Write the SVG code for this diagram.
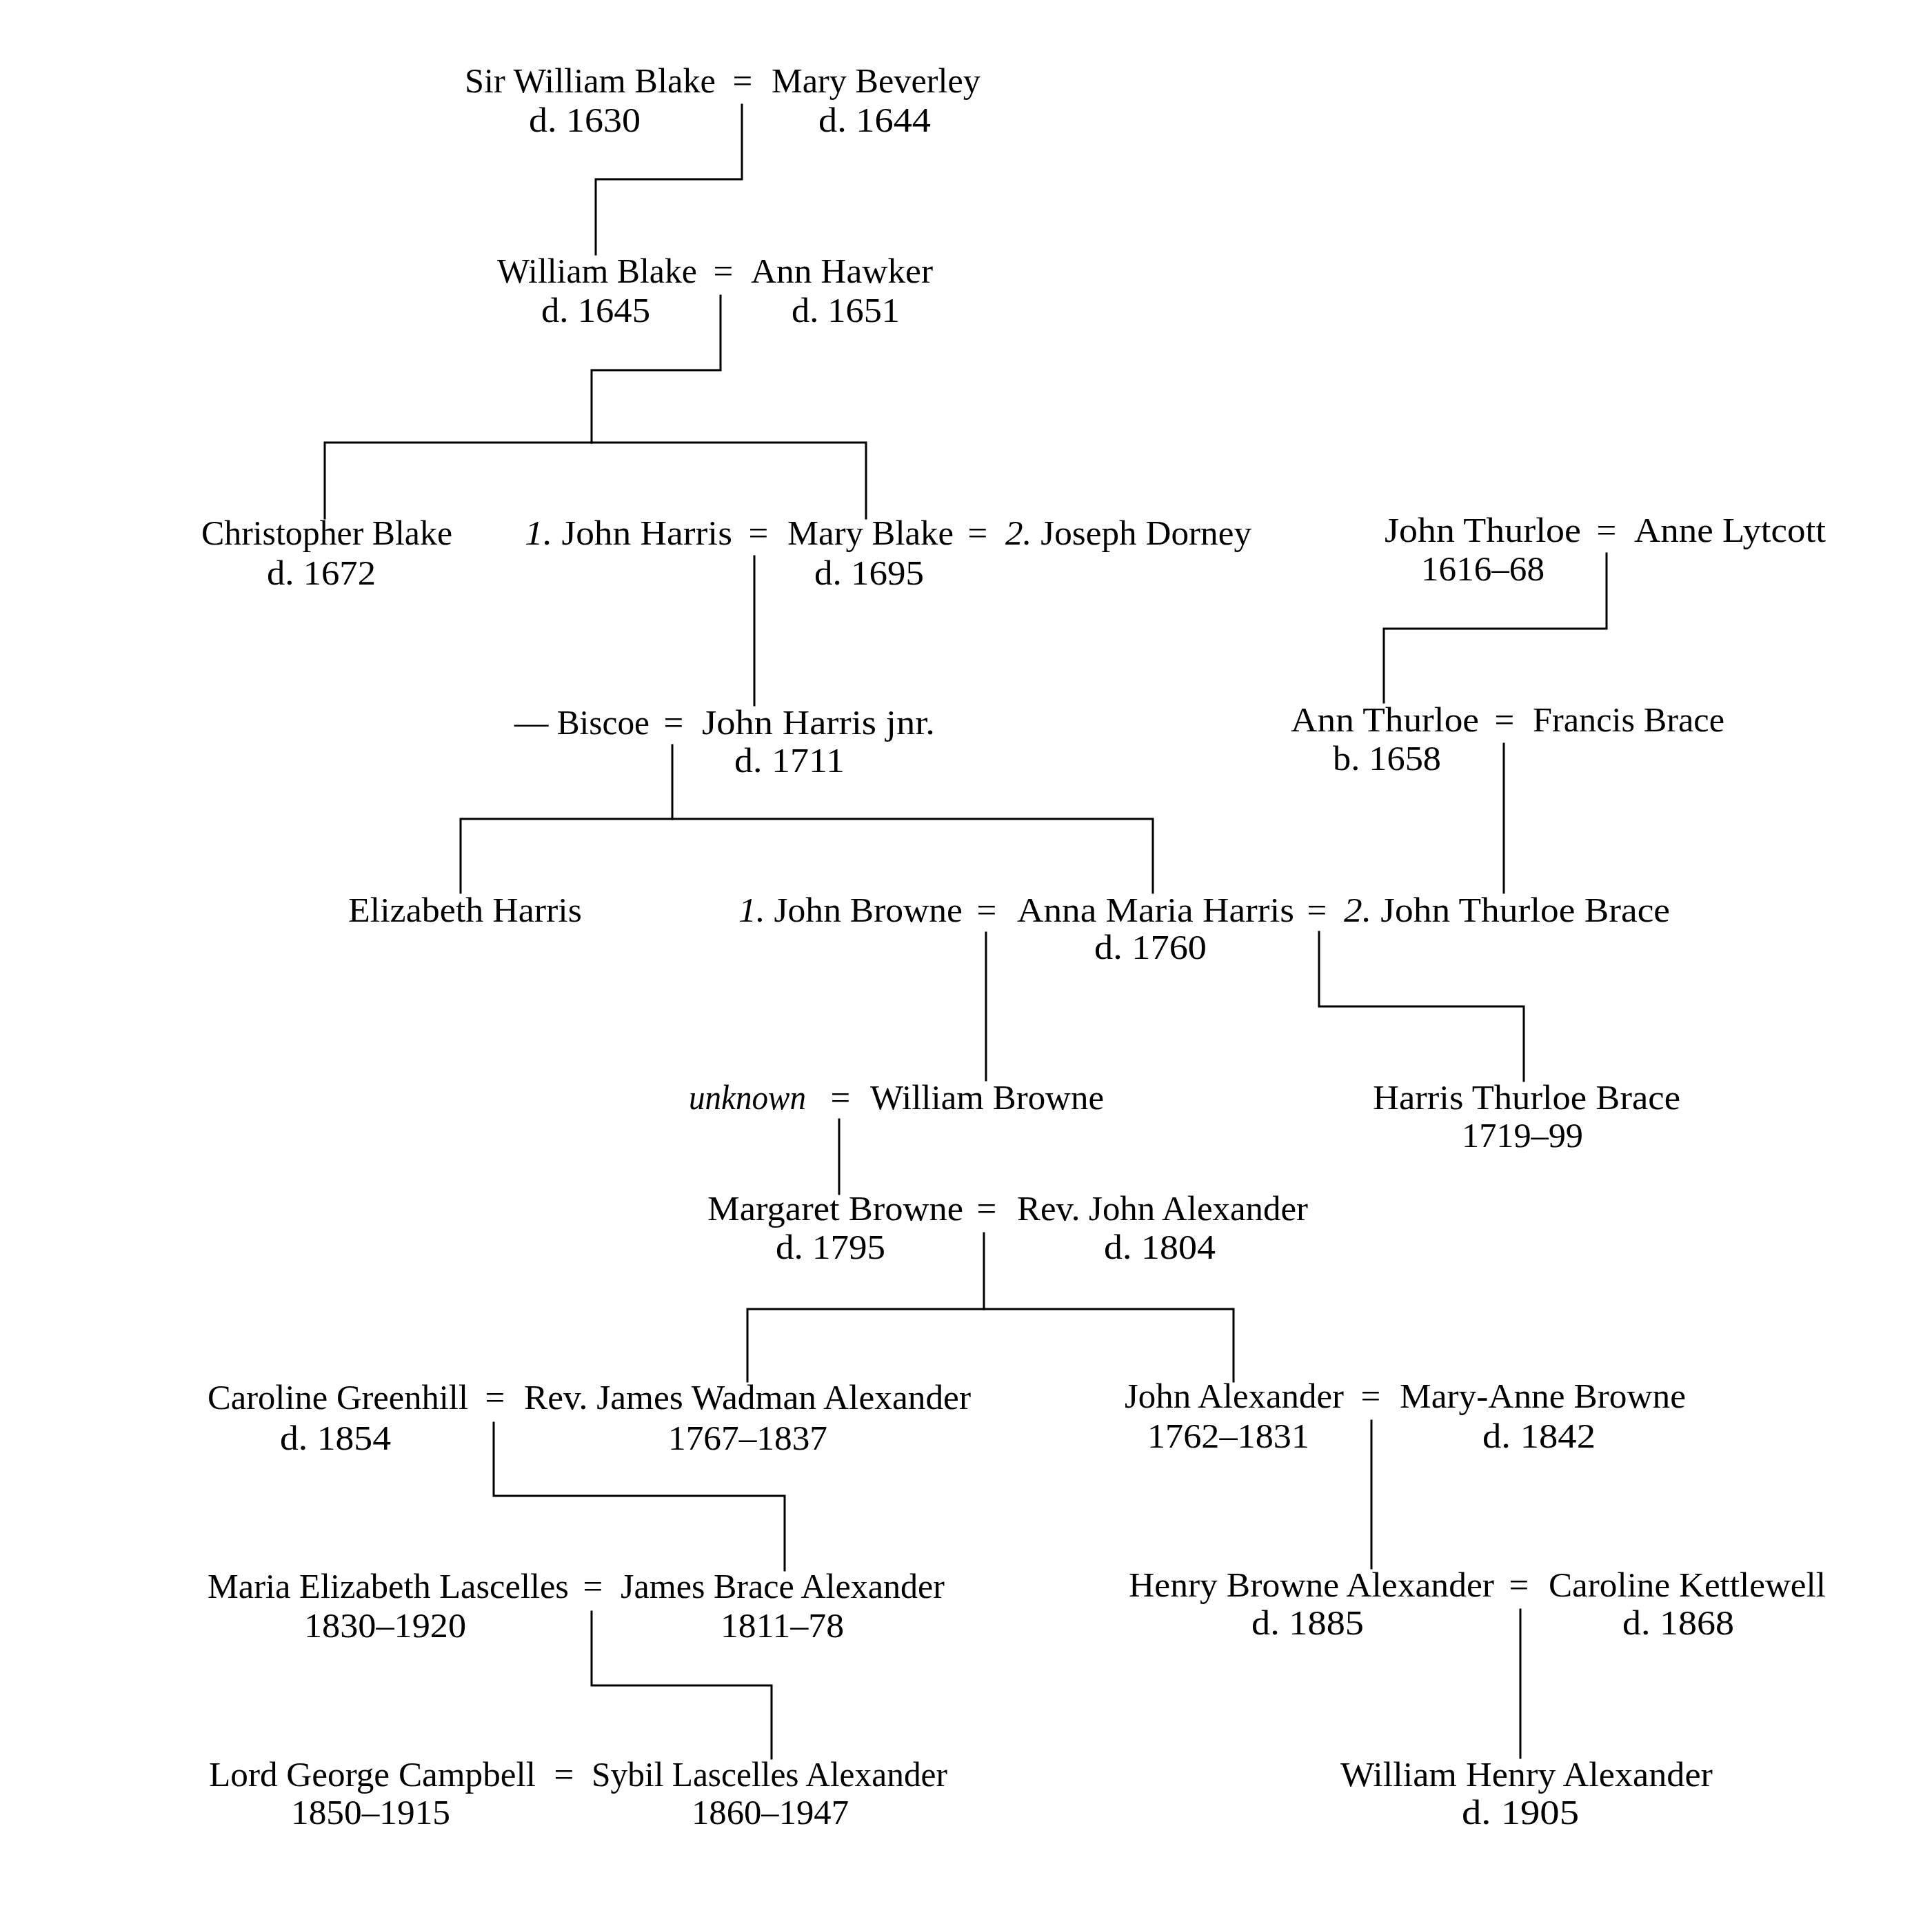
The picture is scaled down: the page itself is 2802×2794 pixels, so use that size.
<svg xmlns="http://www.w3.org/2000/svg" width="2802" height="2794" viewBox="0 0 2802 2794">
<style>
  text { font-family: "Liberation Serif", "Times New Roman", serif; font-size: 51px; fill: #000; }
  .eq { text-anchor: middle; }
  .it { font-style: italic; }
  .line { fill: none; stroke: #000; stroke-width: 3; stroke-linecap: square; stroke-linejoin: miter; }
</style>
<rect width="2802" height="2794" fill="#fff"/>

<g id="connectors">
  <path class="line" d="M1076,152 V260 H864 V369"/>
  <path class="line" d="M1045,429 V537 H858 V642"/>
  <path class="line" d="M471,752 V642 H1256 V752"/>
  <path class="line" d="M1094,807 V1023"/>
  <path class="line" d="M2330,803 V912 H2007 V1019"/>
  <path class="line" d="M975,1081 V1188"/>
  <path class="line" d="M668,1295 V1188 H1672 V1295"/>
  <path class="line" d="M2181,1079 V1295"/>
  <path class="line" d="M1430,1353 V1567"/>
  <path class="line" d="M1913,1352 V1460 H2210 V1568"/>
  <path class="line" d="M1217,1624 V1732"/>
  <path class="line" d="M1427,1789 V1899"/>
  <path class="line" d="M1084,2004 V1899 H1789 V2004"/>
  <path class="line" d="M716,2064 V2170 H1138 V2278"/>
  <path class="line" d="M1989,2061 V2275"/>
  <path class="line" d="M858,2338 V2445 H1119 V2551"/>
  <path class="line" d="M2205,2335 V2550"/>
</g>

<g id="marriages">
  <text class="eq" x="1077" y="134">=</text>
  <text class="eq" x="1049" y="410">=</text>
  <text class="eq" x="1100" y="790">=</text>
  <text class="eq" x="1418" y="790">=</text>
  <text class="eq" x="2330" y="786">=</text>
  <text class="eq" x="977" y="1065">=</text>
  <text class="eq" x="2182" y="1061">=</text>
  <text class="eq" x="1431" y="1337">=</text>
  <text class="eq" x="1910" y="1337">=</text>
  <text class="eq" x="1219" y="1609">=</text>
  <text class="eq" x="1431" y="1770">=</text>
  <text class="eq" x="718" y="2044">=</text>
  <text class="eq" x="1988" y="2042">=</text>
  <text class="eq" x="860" y="2318">=</text>
  <text class="eq" x="2203" y="2316">=</text>
  <text class="eq" x="818" y="2591">=</text>
</g>

<g id="sir-william-blake">
  <text x="674" y="134" textLength="364" lengthAdjust="spacingAndGlyphs">Sir William Blake</text>
  <text x="767" y="191" textLength="162" lengthAdjust="spacingAndGlyphs">d. 1630</text>
</g>
<g id="mary-beverley">
  <text x="1119" y="134" textLength="303" lengthAdjust="spacingAndGlyphs">Mary Beverley</text>
  <text x="1187" y="191" textLength="163" lengthAdjust="spacingAndGlyphs">d. 1644</text>
</g>

<g id="william-blake">
  <text x="721" y="410" textLength="290" lengthAdjust="spacingAndGlyphs">William Blake</text>
  <text x="785" y="467" textLength="158" lengthAdjust="spacingAndGlyphs">d. 1645</text>
</g>
<g id="ann-hawker">
  <text x="1089" y="410" textLength="264" lengthAdjust="spacingAndGlyphs">Ann Hawker</text>
  <text x="1148" y="467" textLength="157" lengthAdjust="spacingAndGlyphs">d. 1651</text>
</g>

<g id="christopher-blake">
  <text x="292" y="790" textLength="364" lengthAdjust="spacingAndGlyphs">Christopher Blake</text>
  <text x="387" y="848" textLength="158" lengthAdjust="spacingAndGlyphs">d. 1672</text>
</g>
<g id="john-harris">
  <text x="761" y="790" textLength="301" lengthAdjust="spacingAndGlyphs"><tspan class="it">1.</tspan> John Harris</text>
</g>
<g id="mary-blake">
  <text x="1142" y="790" textLength="241" lengthAdjust="spacingAndGlyphs">Mary Blake</text>
  <text x="1181" y="848" textLength="159" lengthAdjust="spacingAndGlyphs">d. 1695</text>
</g>
<g id="joseph-dorney">
  <text x="1458" y="790" textLength="357" lengthAdjust="spacingAndGlyphs"><tspan class="it">2.</tspan> Joseph Dorney</text>
</g>

<g id="john-thurloe">
  <text x="2008" y="786" textLength="285" lengthAdjust="spacingAndGlyphs">John Thurloe</text>
  <text x="2061" y="842" textLength="179" lengthAdjust="spacingAndGlyphs">1616–68</text>
</g>
<g id="anne-lytcott">
  <text x="2370" y="786" textLength="278" lengthAdjust="spacingAndGlyphs">Anne Lytcott</text>
</g>

<g id="biscoe">
  <text x="746" y="1065" textLength="196" lengthAdjust="spacingAndGlyphs">— Biscoe</text>
</g>
<g id="john-harris-jnr">
  <text x="1018" y="1065" textLength="338" lengthAdjust="spacingAndGlyphs">John Harris jnr.</text>
  <text x="1065" y="1120" textLength="160" lengthAdjust="spacingAndGlyphs">d. 1711</text>
</g>

<g id="ann-thurloe">
  <text x="1872" y="1061" textLength="273" lengthAdjust="spacingAndGlyphs">Ann Thurloe</text>
  <text x="1933" y="1117" textLength="157" lengthAdjust="spacingAndGlyphs">b. 1658</text>
</g>
<g id="francis-brace">
  <text x="2223" y="1061" textLength="278" lengthAdjust="spacingAndGlyphs">Francis Brace</text>
</g>

<g id="elizabeth-harris">
  <text x="505" y="1337" textLength="339" lengthAdjust="spacingAndGlyphs">Elizabeth Harris</text>
</g>
<g id="john-browne">
  <text x="1071" y="1337" textLength="325" lengthAdjust="spacingAndGlyphs"><tspan class="it">1.</tspan> John Browne</text>
</g>
<g id="anna-maria-harris">
  <text x="1475" y="1337" textLength="402" lengthAdjust="spacingAndGlyphs">Anna Maria Harris</text>
  <text x="1587" y="1391" textLength="163" lengthAdjust="spacingAndGlyphs">d. 1760</text>
</g>
<g id="john-thurloe-brace">
  <text x="1949" y="1337" textLength="473" lengthAdjust="spacingAndGlyphs"><tspan class="it">2.</tspan> John Thurloe Brace</text>
</g>

<g id="unknown">
  <text class="it" x="999" y="1609" textLength="170" lengthAdjust="spacingAndGlyphs">unknown</text>
</g>
<g id="william-browne">
  <text x="1262" y="1609" textLength="339" lengthAdjust="spacingAndGlyphs">William Browne</text>
</g>
<g id="harris-thurloe-brace">
  <text x="1991" y="1609" textLength="446" lengthAdjust="spacingAndGlyphs">Harris Thurloe Brace</text>
  <text x="2120" y="1664" textLength="176" lengthAdjust="spacingAndGlyphs">1719–99</text>
</g>

<g id="margaret-browne">
  <text x="1026" y="1770" textLength="371" lengthAdjust="spacingAndGlyphs">Margaret Browne</text>
  <text x="1125" y="1826" textLength="159" lengthAdjust="spacingAndGlyphs">d. 1795</text>
</g>
<g id="rev-john-alexander">
  <text x="1475" y="1770" textLength="422" lengthAdjust="spacingAndGlyphs">Rev. John Alexander</text>
  <text x="1601" y="1826" textLength="162" lengthAdjust="spacingAndGlyphs">d. 1804</text>
</g>

<g id="caroline-greenhill">
  <text x="301" y="2044" textLength="378" lengthAdjust="spacingAndGlyphs">Caroline Greenhill</text>
  <text x="406" y="2103" textLength="161" lengthAdjust="spacingAndGlyphs">d. 1854</text>
</g>
<g id="rev-james-wadman-alexander">
  <text x="760" y="2044" textLength="648" lengthAdjust="spacingAndGlyphs">Rev. James Wadman Alexander</text>
  <text x="969" y="2103" textLength="231" lengthAdjust="spacingAndGlyphs">1767–1837</text>
</g>
<g id="john-alexander">
  <text x="1631" y="2042" textLength="318" lengthAdjust="spacingAndGlyphs">John Alexander</text>
  <text x="1664" y="2100" textLength="235" lengthAdjust="spacingAndGlyphs">1762–1831</text>
</g>
<g id="mary-anne-browne">
  <text x="2030" y="2042" textLength="415" lengthAdjust="spacingAndGlyphs">Mary-Anne Browne</text>
  <text x="2150" y="2100" textLength="164" lengthAdjust="spacingAndGlyphs">d. 1842</text>
</g>

<g id="maria-elizabeth-lascelles">
  <text x="301" y="2318" textLength="524" lengthAdjust="spacingAndGlyphs">Maria Elizabeth Lascelles</text>
  <text x="441" y="2375" textLength="235" lengthAdjust="spacingAndGlyphs">1830–1920</text>
</g>
<g id="james-brace-alexander">
  <text x="900" y="2318" textLength="470" lengthAdjust="spacingAndGlyphs">James Brace Alexander</text>
  <text x="1045" y="2375" textLength="179" lengthAdjust="spacingAndGlyphs">1811–78</text>
</g>
<g id="henry-browne-alexander">
  <text x="1637" y="2316" textLength="530" lengthAdjust="spacingAndGlyphs">Henry Browne Alexander</text>
  <text x="1815" y="2371" textLength="163" lengthAdjust="spacingAndGlyphs">d. 1885</text>
</g>
<g id="caroline-kettlewell">
  <text x="2246" y="2316" textLength="402" lengthAdjust="spacingAndGlyphs">Caroline Kettlewell</text>
  <text x="2353" y="2371" textLength="162" lengthAdjust="spacingAndGlyphs">d. 1868</text>
</g>

<g id="lord-george-campbell">
  <text x="303" y="2591" textLength="474" lengthAdjust="spacingAndGlyphs">Lord George Campbell</text>
  <text x="422" y="2646" textLength="231" lengthAdjust="spacingAndGlyphs">1850–1915</text>
</g>
<g id="sybil-lascelles-alexander">
  <text x="858" y="2591" textLength="516" lengthAdjust="spacingAndGlyphs">Sybil Lascelles Alexander</text>
  <text x="1003" y="2646" textLength="228" lengthAdjust="spacingAndGlyphs">1860–1947</text>
</g>
<g id="william-henry-alexander">
  <text x="1944" y="2591" textLength="540" lengthAdjust="spacingAndGlyphs">William Henry Alexander</text>
  <text x="2120" y="2646" textLength="170" lengthAdjust="spacingAndGlyphs">d. 1905</text>
</g>
</svg>
